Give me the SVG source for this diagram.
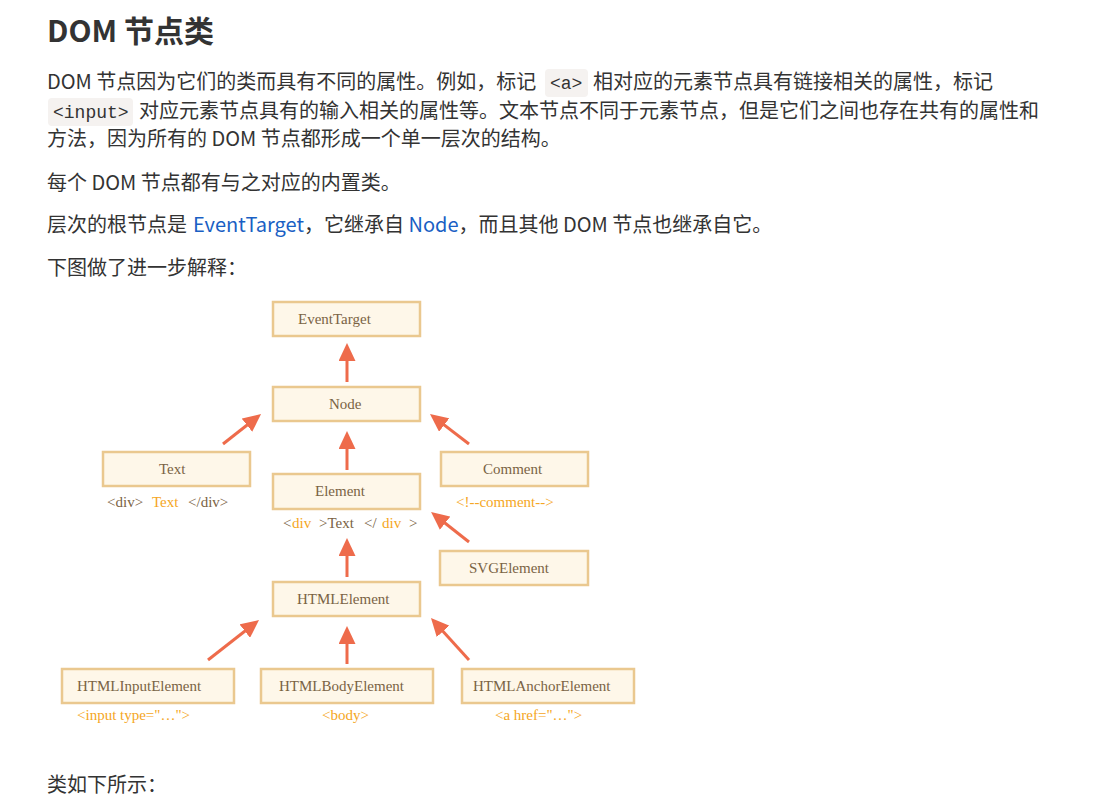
<svg xmlns="http://www.w3.org/2000/svg" width="1115" height="807" viewBox="0 0 1115 807">
  <style>
    .body { font-family: "Noto Sans CJK SC", "Noto Sans", sans-serif; font-size: 20px; fill: #333333; }
    .title { font-family: "Noto Sans CJK SC", "Noto Sans", sans-serif; font-size: 30px; font-weight: bold; fill: #333333; }
    .link { fill: #1a5fc4; }
    .code { font-family: "Liberation Mono", "DejaVu Sans Mono", monospace; font-size: 18px; fill: #333333; }
    .codebg { fill: #f5f2f0; }
    .box { fill: #fef7e9; stroke: #eac88f; stroke-width: 2.5; }
    .lbl { font-family: "Liberation Serif", "Times New Roman", serif; font-size: 15px; fill: #7a6344; }
    .sub { font-family: "Liberation Serif", "Times New Roman", serif; font-size: 15px; fill: #7a6344; }
    .hl { fill: #f5a623; }
    .arrow { stroke: #ee6b4b; stroke-width: 3; fill: none; marker-end: url(#head); }
  </style>
  <defs>
    <marker id="head" markerUnits="userSpaceOnUse" markerWidth="18" markerHeight="17" refX="8" refY="8.5" orient="auto">
      <path d="M0,0 L18,8.5 L0,17 z" fill="#ee6b4b"/>
    </marker>
  </defs>

  <rect width="1115" height="807" fill="#ffffff"/>

  <!-- heading and introduction -->
  <text class="title" x="47" y="42">DOM 节点类</text>

  <rect class="codebg" x="545" y="69" width="43" height="28" rx="4"/>
  <text class="body" x="47" y="89">DOM 节点因为它们的类而具有不同的属性。例如，标记</text>
  <text class="code" x="550" y="89">&lt;a&gt;</text>
  <text class="body" x="593" y="89">相对应的元素节点具有链接相关的属性，标记</text>

  <rect class="codebg" x="48" y="98" width="85" height="28" rx="4"/>
  <text class="code" x="53" y="118">&lt;input&gt;</text>
  <text class="body" x="139" y="118">对应元素节点具有的输入相关的属性等。文本节点不同于元素节点，但是它们之间也存在共有的属性和</text>
  <text class="body" x="47" y="146">方法，因为所有的 DOM 节点都形成一个单一层次的结构。</text>

  <text class="body" x="47" y="190">每个 DOM 节点都有与之对应的内置类。</text>

  <text class="body" y="232"><tspan x="47">层次的根节点是 </tspan><tspan x="193" class="link">EventTarget</tspan><tspan>，它继承自 </tspan><tspan class="link">Node</tspan><tspan>，而且其他 DOM 节点也继承自它。</tspan></text>

  <text class="body" x="47" y="275">下图做了进一步解释：</text>

  <!-- class hierarchy -->
  <g id="connectors">
    <path class="arrow" d="M347,382 L347,353"/>
    <path class="arrow" d="M223,444 L253.2,420.2"/>
    <path class="arrow" d="M347,470 L347,441"/>
    <path class="arrow" d="M469,444 L437.9,420.1"/>
    <path class="arrow" d="M469,542 L438.9,518.2"/>
    <path class="arrow" d="M347,577 L347,548"/>
    <path class="arrow" d="M208,660 L251.1,626.2"/>
    <path class="arrow" d="M347,664 L347,636"/>
    <path class="arrow" d="M469,660 L437.7,625.4"/>
  </g>

  <g id="node-eventtarget">
    <rect class="box" x="273" y="302" width="147" height="34"/>
    <text class="lbl" x="298" y="324">EventTarget</text>
  </g>

  <g id="node-node">
    <rect class="box" x="273" y="387" width="147" height="34"/>
    <text class="lbl" x="329" y="409">Node</text>
  </g>

  <g id="node-text">
    <rect class="box" x="103" y="452" width="147" height="34"/>
    <text class="lbl" x="159" y="474">Text</text>
    <text class="sub" y="507"><tspan x="107">&lt;div&gt;</tspan><tspan x="152" class="hl">Text</tspan><tspan x="188">&lt;/div&gt;</tspan></text>
  </g>

  <g id="node-comment">
    <rect class="box" x="441" y="452" width="147" height="34"/>
    <text class="lbl" x="483" y="474">Comment</text>
    <text class="sub hl" x="456" y="507">&lt;!--comment--&gt;</text>
  </g>

  <g id="node-element">
    <rect class="box" x="273" y="474" width="147" height="35"/>
    <text class="lbl" x="315" y="496">Element</text>
    <text class="sub" y="528"><tspan x="283">&lt;</tspan><tspan x="292" class="hl">div</tspan><tspan x="319">&gt;Text</tspan><tspan x="364">&lt;/</tspan><tspan x="382" class="hl">div</tspan><tspan x="409">&gt;</tspan></text>
  </g>

  <g id="node-svgelement">
    <rect class="box" x="440" y="551" width="148" height="34"/>
    <text class="lbl" x="469" y="573">SVGElement</text>
  </g>

  <g id="node-htmlelement">
    <rect class="box" x="273" y="582" width="147" height="34"/>
    <text class="lbl" x="297" y="604">HTMLElement</text>
  </g>

  <g id="node-htmlinputelement">
    <rect class="box" x="62" y="669" width="172" height="34"/>
    <text class="lbl" x="77" y="691">HTMLInputElement</text>
    <text class="sub hl" x="77" y="720">&lt;input type="…"&gt;</text>
  </g>

  <g id="node-htmlbodyelement">
    <rect class="box" x="261" y="669" width="172" height="34"/>
    <text class="lbl" x="279" y="691">HTMLBodyElement</text>
    <text class="sub hl" x="322" y="720">&lt;body&gt;</text>
  </g>

  <g id="node-htmlanchorelement">
    <rect class="box" x="462" y="669" width="172" height="34"/>
    <text class="lbl" x="473" y="691">HTMLAnchorElement</text>
    <text class="sub hl" x="495" y="720">&lt;a href="…"&gt;</text>
  </g>

  <text class="body" x="47" y="792">类如下所示：</text>
</svg>
